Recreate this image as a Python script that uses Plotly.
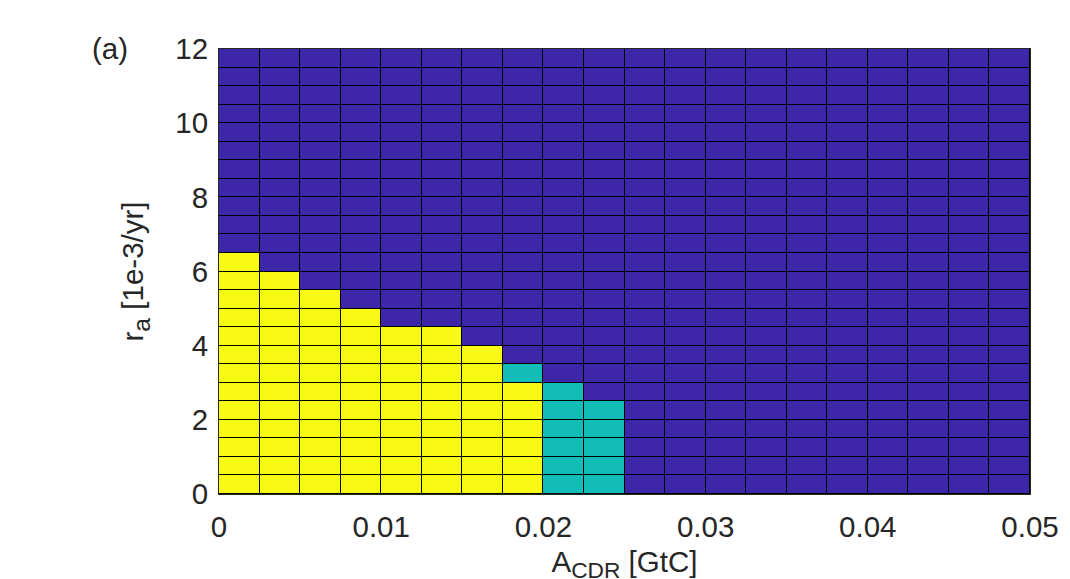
import numpy as np
import plotly.graph_objects as go

# Grid of the parameter sweep
a_cdr_edges = np.linspace(0.0, 0.05, 21)      # A_CDR [GtC], 20 cells
r_a_edges = np.linspace(0.0, 12.0, 25)        # r_a [1e-3/yr], 24 cells

# Per-column outcome boundaries
# yellow (class 2) from 0 up to yellow_top; teal (class 1) from yellow_top up to teal_top
yellow_top = [6.5, 6.0, 5.5, 5.0, 4.5, 4.5, 4.0, 3.0, 0, 0,
              0, 0, 0, 0, 0, 0, 0, 0, 0, 0]
teal_top = [0, 0, 0, 0, 0, 0, 0, 3.5, 3.0, 2.5,
            0, 0, 0, 0, 0, 0, 0, 0, 0, 0]

x_centers = 0.5 * (a_cdr_edges[:-1] + a_cdr_edges[1:])
y_centers = 0.5 * (r_a_edges[:-1] + r_a_edges[1:])

z = np.zeros((len(y_centers), len(x_centers)))
for i, xc in enumerate(x_centers):
    for j, yc in enumerate(y_centers):
        if yc < yellow_top[i]:
            z[j, i] = 2
        elif yc < teal_top[i]:
            z[j, i] = 1

blue = "#3d26a8"
teal = "#13bdb7"
yellow = "#f9fa14"
txt = "#262626"
fnt = "Liberation Sans"
fs = 29.5

fig = go.Figure(go.Heatmap(
    x=x_centers, y=y_centers, z=z,
    zmin=0, zmax=2,
    colorscale=[[0, blue], [0.5, teal], [1, yellow]],
    showscale=False, xgap=1, ygap=1, hoverinfo="skip",
))

fig.update_layout(
    width=1070, height=579,
    margin=dict(l=211, r=48, t=41, b=93),
    paper_bgcolor="white", plot_bgcolor="black",
    font=dict(family=fnt, size=fs, color=txt),
    showlegend=False,
)
fig.update_xaxes(
    range=[0, 0.05], tickvals=[0, 0.01, 0.02, 0.03, 0.04, 0.05],
    ticktext=["0", "0.01", "0.02", "0.03", "0.04", "0.05"],
    showgrid=False, zeroline=False, ticks="", ticklabelstandoff=7,
    showline=True, linecolor=txt, linewidth=1, mirror=True,
    title=dict(text='A<sub><span style="font-size:110%">CDR</span></sub> [GtC]',
               standoff=8, font=dict(size=fs)),
)
fig.update_yaxes(
    range=[0, 12], tickvals=[0, 2, 4, 6, 8, 10, 12],
    showgrid=False, zeroline=False, ticks="", ticklabelstandoff=4,
    showline=True, linecolor=txt, linewidth=1, mirror=True,
    title=dict(text='r<sub><span style="font-size:120%">a</span></sub> [1e-3/yr]',
               standoff=22, font=dict(size=fs)),
)
fig.add_annotation(
    text="(a)", xref="paper", yref="paper", x=-0.134, y=1.002,
    xanchor="center", yanchor="middle", showarrow=False,
    font=dict(family=fnt, size=fs, color=txt),
)

fig.write_html("out.html")
